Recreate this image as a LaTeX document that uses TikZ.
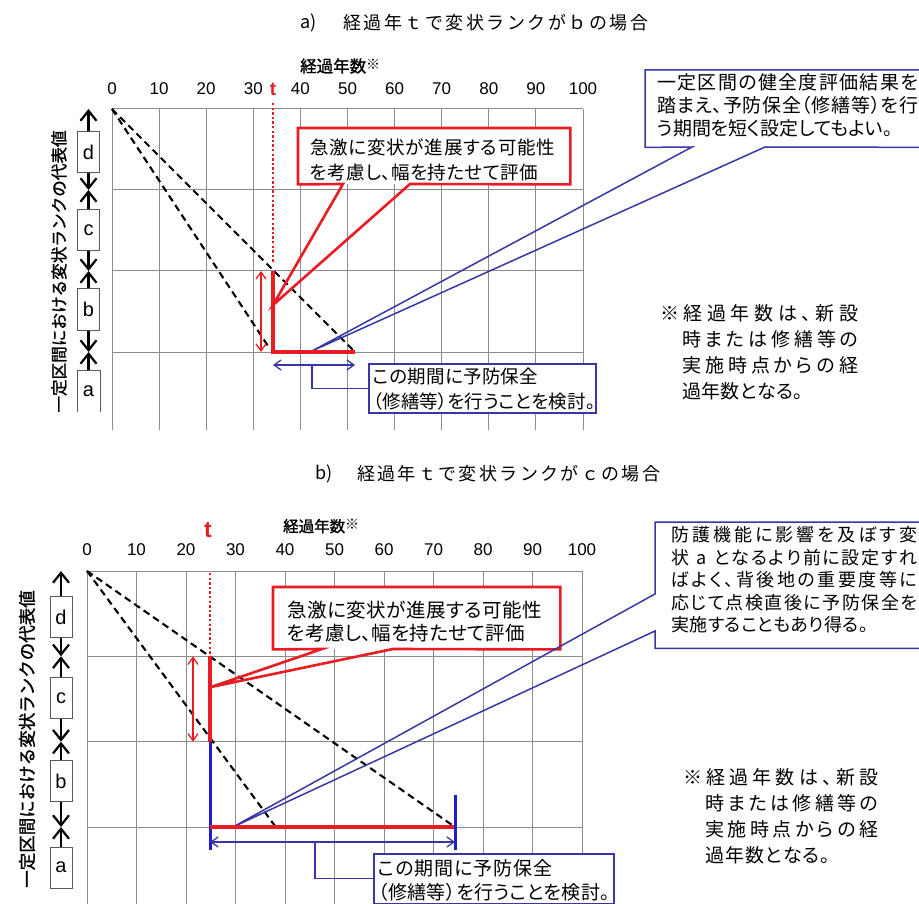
\documentclass[tikz,border=0pt]{standalone}
\usepackage{fontspec}
\setmainfont{Liberation Sans}
\newfontfamily\jp{Noto Sans CJK JP}
\newfontfamily\jpp{Noto Sans CJK JP}[RawFeature=+palt]
\newfontfamily\jpb{Noto Sans CJK JP}[FakeBold=1.4]
\usetikzlibrary{arrows.meta}
\definecolor{myred}{RGB}{232,28,34}
\definecolor{myblue}{RGB}{30,30,205}
\definecolor{navy}{RGB}{55,55,165}
\definecolor{gridc}{RGB}{140,140,140}
\def\sprloop#1{\ifx\relax#1\else#1\hskip 0pt plus 1fil\relax\expandafter\sprloop\fi}
\newcommand\spr[2]{\makebox[#1][s]{\sprloop#2\relax\unskip}}
\newcommand\fs[2]{\fontsize{#1}{#2}\selectfont}
\def\hsp{\hspace*{4pt}}
\begin{document}
\begin{tikzpicture}[x=1pt,y=-1pt,
  gridl/.style={draw=gridc,line width=1pt},
  dashln/.style={black,line width=2.1pt,dash pattern=on 7pt off 4.5pt},
  tdot/.style={myred,line width=2.6pt,dash pattern=on 2.4pt off 2.2pt},
  redthick/.style={myred,line width=3.6pt},
  bluethick/.style={myblue,line width=3pt},
  redarr/.style={myred,line width=1.3pt,{Straight Barb[length=7pt,width=10pt]}-{Straight Barb[length=7pt,width=10pt]}},
  bluearr/.style={navy,line width=1.3pt,{Straight Barb[length=7pt,width=10pt]}-{Straight Barb[length=7pt,width=10pt]}},
  axarr/.style={black,line width=2.2pt,-{Straight Barb[length=10pt,width=16pt]}},
  rankbox/.style={draw=black!65,line width=1pt,fill=white,minimum width=22pt,minimum height=41pt,inner sep=0pt,font=\fs{20}{20}},
  ticklab/.style={font=\fs{17}{17},inner sep=0pt},
  tlab/.style={text=myred,font=\bfseries\fs{19}{19},inner sep=0pt},
  plain/.style={inner sep=0pt,align=left},
  boxfill/.style={fill=white,inner sep=0pt},
  redframe/.style={draw=myred,line width=2.6pt,line join=miter},
  blueframe/.style={draw=navy,line width=1.5pt,line join=miter},
  pframe/.style={draw=navy,line width=1.2pt}
]
\useasboundingbox (0,0) rectangle (919,904);

% ================= PANEL A =================
\node[plain,anchor=west,font=\jp\fs{18}{18}] (ta1) at (300,23) {a)};
\node[plain,anchor=west,font=\jp\fs{18}{18}] (ta2) at (343,23) {\spr{305pt}{経過年ｔで変状ランクがｂの場合}};
\node[plain,anchor=west] (xa) at (300,66) {{\jpb\fs{16.5}{16.5}経過年数}\raisebox{3pt}{\jp\fs{14}{14}※}};

\foreach \i in {0,...,10}{
  \draw[gridl] (112+47.1*\i,109) -- (112+47.1*\i,430);
  \pgfmathtruncatemacro\vv{10*\i}
  \node[ticklab] (tkA\i) at (112+47.1*\i,89) {\vv};
}
\foreach \y in {109,190,271,352} \draw[gridl] (112,\y) -- (583,\y);
\node[tlab] (tA) at (273,89) {t};

% dashed lines
\coordinate (OA) at (112,109);
\coordinate (SA) at (270,349);
\coordinate (EA) at (355,352);
\draw[dashln] (OA) -- (SA);
\draw[dashln] (OA) -- (EA);
\coordinate (dA1) at (273,103);
\coordinate (dA2) at (273,262);
\draw[tdot] (dA1) -- (dA2);

% left axis
\node[plain,rotate=90,font=\jpb\fs{16.6}{16.6}] (vlA) at (59,271.5) {一定区間における変状ランクの代表値};
\node[rankbox] (kAd) at (88.5,152.5) {d};
\node[rankbox] (kAc) at (88.5,230) {c};
\node[rankbox] (kAb) at (88.5,309.5) {b};
\node[rankbox,draw=none] (kAa) at (88.5,391) {a};
\draw[black!65,line width=1pt] (kAa.south west) -- (kAa.north west) -- (kAa.north east) -- (kAa.south east);
\coordinate (aA0) at (88.5,109);
\coordinate (aA1) at (88.5,190);
\coordinate (aA2) at (88.5,271);
\coordinate (aA3) at (88.5,352);
\draw[axarr] (kAd.north) -- (aA0);
\draw[axarr] (kAd.south) -- (aA1);
\draw[axarr] (kAc.north) -- (aA1);
\draw[axarr] (kAc.south) -- (aA2);
\draw[axarr] (kAb.north) -- (aA2);
\draw[axarr] (kAb.south) -- (aA3);
\draw[axarr] (kAa.north) -- (aA3);

% blue callout A
\coordinate (bpA) at (312,351);
\coordinate (bbA1) at (692,147);
\coordinate (bbA2) at (765,147);
\node[boxfill,minimum width=300pt,minimum height=77pt,anchor=north west] (bcA) at (645,70) {};
\draw[blueframe] (bcA.south west) -- (bcA.north west) -- (bcA.north east) -- (bcA.south east) -- (bbA2) -- (bpA) -- (bbA1) -- cycle;
\node[plain,anchor=west,font=\jpp\fs{19}{23}] (bcAt) at (657,105) {\spr{261pt}{一定区間の健全度評価結果を}\\\spr{261pt}{踏まえ、予防保全（修繕等）を行}\\う期間を短く設定してもよい。};

% red callout A
\coordinate (rpA) at (273,305);
\coordinate (rbA1) at (343,184);
\coordinate (rbA2) at (410,184);
\node[boxfill,minimum width=272pt,minimum height=56pt,anchor=north west] (rcA) at (298,128) {};
\draw[redframe] (rcA.south west) -- (rcA.north west) -- (rcA.north east) -- (rcA.south east) -- (rbA2) -- (rpA) -- (rbA1) -- cycle;
\node[plain,anchor=west,font=\jpp\fs{18.5}{25}] (rcAt) at (310,159.5) {\spr{245pt}{急激に変状が進展する可能性}\\\spr{228pt}{を考慮し、幅を持たせて評価}};

% period box A
\node[boxfill,draw=navy,line width=1.5pt,minimum width=227pt,minimum height=49pt,anchor=north west] (pbA) at (368,363) {};
\node[plain,anchor=west,font=\jpp\fs{18.5}{25}] (pbAt) at (373,389.5) {\spr{165pt}{この期間に予防保全}\\\spr{222pt}{（修繕等）を行うことを検討。}};

% thick lines and arrows A
\coordinate (cA) at (273,352);
\coordinate (vA) at (273,271);
\draw[redthick] (vA) -- (cA) -- (EA);
\coordinate (raA1) at (261,271);
\coordinate (raA2) at (261,352);
\draw[redarr] (raA1) -- (raA2);
\coordinate (baA1) at (273,365);
\coordinate (baA2) at (355,365);
\coordinate (baAm) at (312,365);
\draw[bluearr] (baA1) -- (baA2);
\draw[pframe] (baAm) |- (pbA.west);

% note A
\node[plain,anchor=west,font=\jpp\fs{19}{26}] (ntA) at (660,352) {\spr{198pt}{※経過年数は、新設}\\\hspace*{22pt}\spr{176pt}{時または修繕等の}\\\hspace*{22pt}\spr{176pt}{実施時点からの経}\\\hspace*{22pt}\spr{121pt}{過年数となる。}};

% ================= PANEL B =================
\node[plain,anchor=west,font=\jp\fs{18}{18}] (tb1) at (315,474) {b)};
\node[plain,anchor=west,font=\jp\fs{18}{18}] (tb2) at (357,474) {\spr{303pt}{経過年ｔで変状ランクがｃの場合}};
\node[plain,anchor=west] (xb) at (283,526) {{\jpb\fs{15.5}{15.5}経過年数}\raisebox{3pt}{\jp\fs{14}{14}※}};

\foreach \i in {0,...,10}{
  \draw[gridl] (87+49.5*\i,571) -- (87+49.5*\i,904);
  \pgfmathtruncatemacro\vv{10*\i}
  \node[ticklab] (tkB\i) at (87+49.5*\i,550) {\vv};
}
\foreach \y in {571,656.3,741.7,827} \draw[gridl] (87,\y) -- (582,\y);
\node[tlab,font=\bfseries\fs{23}{23}] (tB) at (208,530) {t};

\coordinate (OB) at (87,571);
\coordinate (SB) at (278,830);
\coordinate (EB) at (455,827);
\draw[dashln] (OB) -- (SB);
\draw[dashln] (OB) -- (EB);
\coordinate (dB1) at (210,573);
\coordinate (dB2) at (210,654);
\draw[tdot] (dB1) -- (dB2);

% left axis B
\node[plain,rotate=90,font=\jpb\fs{17.5}{17.5}] (vlB) at (27,739) {一定区間における変状ランクの代表値};
\node[rankbox] (kBd) at (61,617) {d};
\node[rankbox] (kBc) at (61,698) {c};
\node[rankbox] (kBb) at (61,781) {b};
\node[rankbox] (kBa) at (61,867.5) {a};
\coordinate (aB0) at (61,571);
\coordinate (aB1) at (61,656.3);
\coordinate (aB2) at (61,741.7);
\coordinate (aB3) at (61,827);
\draw[axarr] (kBd.north) -- (aB0);
\draw[axarr] (kBd.south) -- (aB1);
\draw[axarr] (kBc.north) -- (aB1);
\draw[axarr] (kBc.south) -- (aB2);
\draw[axarr] (kBb.north) -- (aB2);
\draw[axarr] (kBb.south) -- (aB3);
\draw[axarr] (kBa.north) -- (aB3);

% red callout B
\coordinate (rpB) at (211,687);
\coordinate (rbB1) at (322,649);
\coordinate (rbB2) at (393,649);
\node[boxfill,minimum width=287pt,minimum height=62pt,anchor=north west] (rcB) at (273,587) {};
\draw[redframe] (rcB.south west) -- (rcB.north west) -- (rcB.north east) -- (rcB.south east) -- (rbB2) -- (rpB) -- (rbB1) -- cycle;
\node[plain,anchor=west,font=\jpp\fs{19.5}{23}] (rcBt) at (287,621.5) {\spr{255pt}{急激に変状が進展する可能性}\\\spr{238pt}{を考慮し、幅を持たせて評価}};

% blue callout B
\coordinate (bpB) at (233,827);
\coordinate (bbB1) at (655,594);
\coordinate (bbB2) at (655,631);
\node[boxfill,minimum width=300pt,minimum height=126pt,anchor=north west] (bcB) at (655,522) {};
\draw[blueframe] (bbB2) -- (bcB.south west) -- (bcB.south east) -- (bcB.north east) -- (bcB.north west) -- (bbB1) -- (bpB) -- cycle;
\node[plain,anchor=west,font=\jpp\fs{18}{22.5}] (bcBt) at (671,580) {\spr{246pt}{防護機能に影響を及ぼす変}\\\spr{246pt}{状\hsp a\hsp となるより前に設定すれ}\\\spr{246pt}{ばよく、背後地の重要度等に}\\\spr{246pt}{応じて点検直後に予防保全を}\\\spr{197pt}{実施することもあり得る。}};

% period box B
\node[boxfill,draw=navy,line width=1.5pt,minimum width=240pt,minimum height=50pt,anchor=north west] (pbB) at (373,853) {};
\node[plain,anchor=west,font=\jpp\fs{19}{24}] (pbBt) at (378,880) {\spr{174pt}{この期間に予防保全}\\\spr{232pt}{（修繕等）を行うことを検討。}};

% thick lines and arrows B
\coordinate (vB0) at (210,656.3);
\coordinate (vB1) at (210,741.7);
\coordinate (vB2) at (210,850);
\coordinate (cB) at (210,827);
\coordinate (eB1) at (455,795);
\coordinate (eB2) at (455,850);
\draw[redthick] (vB0) -- (vB1);
\draw[bluethick] (vB1) -- (vB2);
\draw[redthick] (cB) -- (EB);
\draw[bluethick] (eB1) -- (eB2);
\coordinate (raB1) at (193,656.3);
\coordinate (raB2) at (193,741.7);
\draw[redarr] (raB1) -- (raB2);
\coordinate (baB1) at (210,842);
\coordinate (baB2) at (455,842);
\coordinate (baBm) at (315,842);
\draw[bluearr] (baB1) -- (baB2);
\draw[pframe] (baBm) |- (pbB.west);

% note B
\node[plain,anchor=west,font=\jpp\fs{19}{26}] (ntB) at (683,816) {\spr{195pt}{※経過年数は、新設}\\\hspace*{22pt}\spr{173pt}{時または修繕等の}\\\hspace*{22pt}\spr{173pt}{実施時点からの経}\\\hspace*{22pt}\spr{125pt}{過年数となる。}};
\end{tikzpicture}
\end{document}
